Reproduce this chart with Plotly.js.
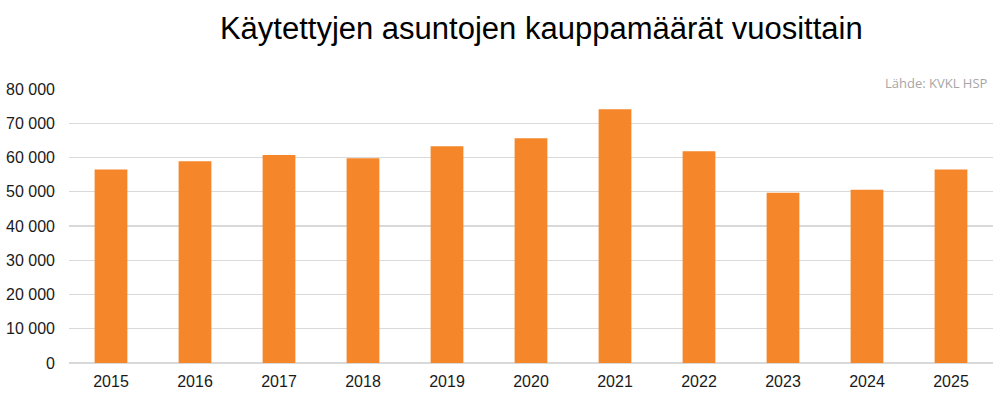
<!DOCTYPE html>
<html>
<head>
<meta charset="utf-8">
<script src="https://cdn.plot.ly/plotly-3.0.1.min.js"></script>
<style>html,body{margin:0;padding:0;background:#fff;}#chart{width:1008px;height:400px;}</style>
</head>
<body>
<div id="chart"></div>
<script>
const years = ["2015","2016","2017","2018","2019","2020","2021","2022","2023","2024","2025"];
const sales = [56500, 58900, 60700, 59800, 63300, 65600, 74100, 61800, 49700, 50600, 56500];
const yTicks = [0, 10000, 20000, 30000, 40000, 50000, 60000, 70000, 80000];
const titleText = "Käytettyjen asuntojen kauppamäärät vuosittain";
const sourceText = "Lähde: KVKL HSP";

const trace = {
  type: "bar",
  x: years,
  y: sales,
  marker: {color: "#F5862A"},
  width: 0.39,
  hoverinfo: "x+y"
};

const layout = {
  width: 1008,
  height: 400,
  margin: {l: 69, r: 15, t: 89, b: 37},
  paper_bgcolor: "#ffffff",
  plot_bgcolor: "#ffffff",
  separators: ", ",
  showlegend: false,
  title: {
    text: titleText,
    font: {family: "Liberation Sans, Arial, sans-serif", size: 31, color: "#000000"},
    x: 0.537, xanchor: "center",
    y: 0.93, yanchor: "middle"
  },
  xaxis: {
    type: "category",
    showgrid: false,
    zeroline: false,
    showline: false,
    ticks: "",
    ticklabelstandoff: 7,
    tickfont: {family: "Liberation Sans, Arial, sans-serif", size: 16, color: "#1a1a1a"}
  },
  yaxis: {
    range: [0, 80000],
    tickvals: yTicks,
    tickformat: ",d",
    showgrid: true,
    gridcolor: "#d9d9d9",
    gridwidth: 1.3,
    zeroline: true,
    zerolinecolor: "#d9d9d9",
    zerolinewidth: 1.3,
    showline: false,
    ticks: "",
    ticklabelstandoff: 13,
    tickfont: {family: "Liberation Sans, Arial, sans-serif", size: 16, color: "#1a1a1a"}
  },
  annotations: [{
    text: sourceText,
    xref: "paper", yref: "paper",
    x: 0.997, y: 1.022,
    xanchor: "right", yanchor: "middle",
    showarrow: false,
    font: {family: "Open Sans, sans-serif", size: 13, color: "#a6a6a6"}
  }]
};

Plotly.newPlot("chart", [trace], layout, {displayModeBar: false, staticPlot: true});
</script>
</body>
</html>
